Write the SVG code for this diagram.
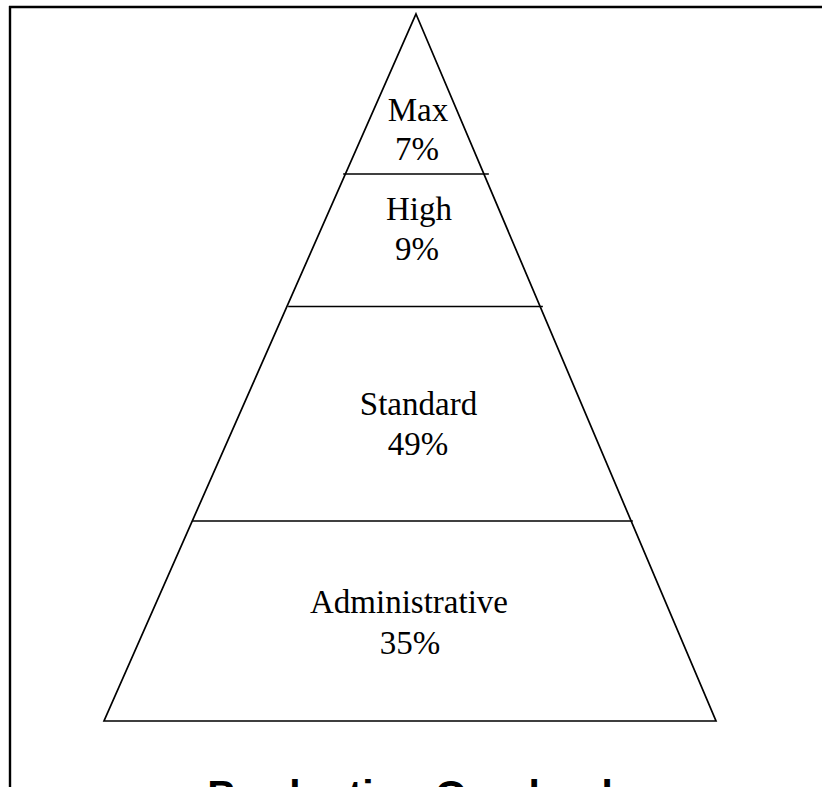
<svg xmlns="http://www.w3.org/2000/svg" width="822" height="787" viewBox="0 0 822 787">
<style>
.ln{stroke:#000;stroke-width:1.7;fill:none;stroke-linecap:square}
.bd{stroke:#000;stroke-width:2.4;fill:none}
.lb{font-family:"Liberation Serif","Times New Roman",serif;font-size:33px;fill:#000;text-anchor:middle}
.tt{font-family:"Liberation Sans",Arial,sans-serif;font-size:41px;font-weight:bold;fill:#000;text-anchor:middle}
</style>
<rect width="822" height="787" fill="#fff"/>
<g id="frame">
<line class="bd" x1="9" y1="7" x2="822" y2="7"/>
<line class="bd" x1="10" y1="6" x2="10" y2="787"/>
</g>
<g id="pyramid">
<polygon class="ln" points="416,14 716,721 104,721"/>
<line class="ln" x1="344" y1="174" x2="488" y2="174"/>
<line class="ln" x1="289" y1="306.5" x2="542" y2="306.5"/>
<line class="ln" x1="193" y1="521" x2="632" y2="521"/>
</g>
<g id="tier-max">
<text class="lb" x="418" y="121" font-size="31">Max</text>
<text class="lb" x="417" y="160" font-size="31">7%</text>
</g>
<g id="tier-high">
<text class="lb" x="419" y="220" font-size="31">High</text>
<text class="lb" x="417" y="260" font-size="31">9%</text>
</g>
<g id="tier-standard">
<text class="lb" x="418.5" y="415" font-size="32">Standard</text>
<text class="lb" x="418" y="455" font-size="32">49%</text>
</g>
<g id="tier-administrative">
<text class="lb" x="409" y="613">Administrative</text>
<text class="lb" x="410" y="654">35%</text>
</g>
<g id="title">
<text class="tt" x="410" y="809">Production Overload</text>
</g>
</svg>
